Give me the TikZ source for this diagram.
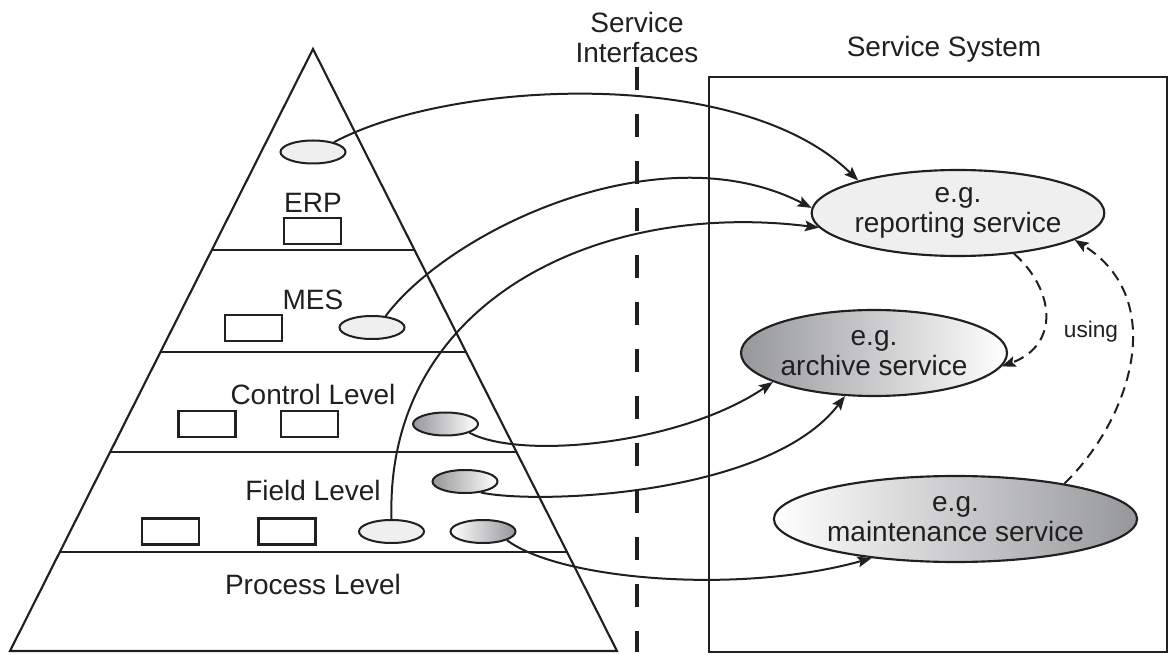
\documentclass[tikz,border=0pt]{standalone}
\usepackage{fontspec}
\setmainfont{Liberation Sans}
\usetikzlibrary{arrows.meta,calc,shapes.geometric}
\definecolor{lnblack}{RGB}{35,31,32}
\definecolor{svclight}{RGB}{239,239,239}
\definecolor{svcshade}{RGB}{150,151,154}
\tikzset{
  lbl/.style={font=\fontsize{21}{22.5}\selectfont,text=lnblack,inner sep=0pt,anchor=base},
  modbox/.style={rectangle,draw=lnblack,line width=1.6pt,fill=white,minimum width=42.75pt,minimum height=19.5pt,inner sep=0pt},
  ifplain/.style={ellipse,draw=lnblack,line width=1.5pt,fill=svclight,minimum width=48.75pt,minimum height=17.25pt,inner sep=0pt},
  ifdark/.style={ifplain,left color=svcshade,right color=white},
  iflite/.style={ifplain,left color=white,right color=svcshade},
  svcbox/.style={ellipse,draw=lnblack,line width=1.6pt,minimum height=64.5pt,inner sep=0pt,align=center,font=\fontsize{21}{22.5}\selectfont,text=lnblack},
  arr/.style={-{Stealth[length=10.5pt,width=8pt,inset=2pt]},line width=1.5pt,draw=lnblack},
  dasharr/.style={arr,dash pattern=on 8pt off 5pt},
}
\begin{document}
\begin{tikzpicture}[x=0.75pt,y=-0.75pt]
  \useasboundingbox (0,0) rectangle (1170,655);
  % pyramid
  \coordinate (apex) at (313,49);
  \coordinate (bl) at (10,651);
  \coordinate (br) at (617,651);
  \draw[lnblack,line width=1.6pt,line join=miter] (bl) -- (apex) -- (br) -- cycle;
  \foreach \t in {0.3339,0.5033,0.6694,0.8355}
    \draw[lnblack,line width=1.6pt] ($(apex)!\t!(bl)$) -- ($(apex)!\t!(br)$);
  \node[lbl] (erplbl) at (313,213) {ERP};
  \node[lbl] (meslbl) at (313,310) {MES};
  \node[lbl] (ctllbl) at (313,405) {Control Level};
  \node[lbl] (fldlbl) at (313,500) {Field Level};
  \node[lbl] (prclbl) at (313,594) {Process Level};
  % modules and interfaces
  \node[ifplain] (erpif) at (313,152) {};
  \node[modbox] (erpmod) at (312.5,231) {};
  \node[modbox] (mesmod) at (253.5,328) {};
  \node[ifplain] (mesif) at (372,327.5) {};
  \node[modbox] (ctlmodA) at (207,424) {};
  \node[modbox] (ctlmodB) at (309.5,424) {};
  \node[ifdark] (ctlif) at (445.5,424) {};
  \node[ifdark] (fldifA) at (465,481.5) {};
  \node[modbox] (fldmodA) at (170.5,531.5) {};
  \node[modbox] (fldmodB) at (287,531.5) {};
  \node[ifplain] (fldif) at (391.5,531.5) {};
  \node[iflite] (fldifB) at (483,531.5) {};
  % service interfaces
  \node[lbl,anchor=north,align=center] (silbl) at (637,12) {Service\\Interfaces};
  \coordinate (sitop) at (637,67);
  \coordinate (sibot) at (637,652);
  \draw[lnblack,line width=3pt,dash pattern=on 17.25pt off 18pt] (sitop) -- (sibot);
  % service system
  \draw[lnblack,line width=1.6pt] (709,77) rectangle (1167,652);
  \node[lbl] (sslbl) at (944,57) {Service System};
  \node[svcbox,fill=svclight,minimum width=201pt] (rptsvc) at (958,213) {e.g.\\reporting service};
  \node[svcbox,left color=svcshade,right color=white,minimum width=199.5pt] (arcsvc) at (874,353) {e.g.\\archive service};
  \node[svcbox,left color=white,right color=svcshade,minimum width=240.75pt] (mntsvc) at (955.5,519) {e.g.\\maintenance service};
  % connections
  \draw[arr] (erpif.25) .. controls (450,80) and (740,65) .. (rptsvc.162);
  \draw[arr] (mesif.40) .. controls (450,230) and (660,130) .. (rptsvc.178);
  \draw[arr] (fldif.north) .. controls (385,300) and (600,200) .. (rptsvc.186);
  \draw[arr] (ctlif.340) .. controls (520,460) and (680,445) .. (arcsvc.196);
  \draw[arr] (fldifA.325) .. controls (540,505) and (770,495) .. (arcsvc.236);
  \draw[arr] (fldifB.340) .. controls (560,580) and (740,595) .. (mntsvc.205);
  \draw[dasharr] (rptsvc.324) .. controls (1055,290) and (1060,345) .. (arcsvc.354);
  \draw[dasharr] (mntsvc.18) .. controls (1130,420) and (1170,300) .. (rptsvc.347);
  \node[lbl,font=\fontsize{17}{20}\selectfont] (usinglbl) at (1091,338) {using};
\end{tikzpicture}
\end{document}
